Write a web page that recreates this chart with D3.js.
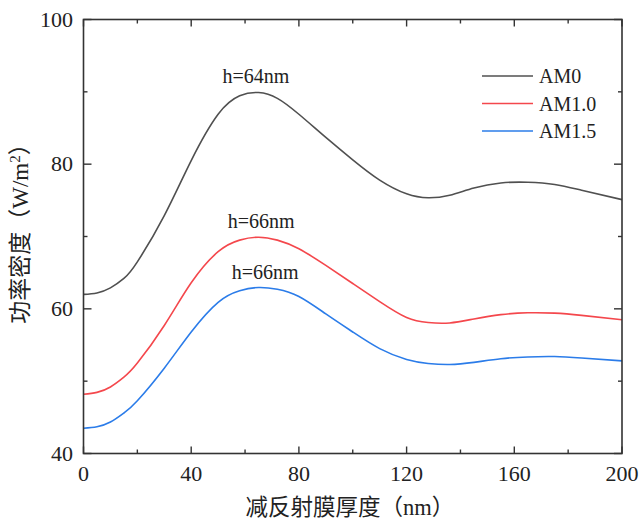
<!DOCTYPE html>
<html><head><meta charset="utf-8">
<script src="https://cdn.jsdelivr.net/npm/d3@7"></script>
<style>body{margin:0;background:#fff}</style>
</head><body>
<svg id="c" width="640" height="520"></svg>
<script>
const thickness = [0,5,10,15,20,30,40,50,58,65,72,80,90,100,110,120,128,136,145,155,165,175,185,200];
const am0  = [62.0,62.2,62.9,64.2,66.5,72.9,80.5,86.9,89.45,89.9,89.1,86.9,83.7,80.6,77.8,75.9,75.35,75.7,76.7,77.4,77.5,77.2,76.4,75.1];
const am10 = [48.2,48.45,49.2,50.55,52.5,57.7,63.6,67.9,69.5,69.9,69.5,68.3,66.0,63.5,61.0,58.8,58.1,58.05,58.6,59.2,59.45,59.4,59.1,58.5];
const am15 = [43.5,43.7,44.35,45.6,47.3,51.8,56.8,60.9,62.5,62.95,62.7,61.7,59.3,56.8,54.5,53.0,52.45,52.3,52.6,53.1,53.35,53.4,53.2,52.8];
const seriesNames = ["AM0","AM1.0","AM1.5"];
const seriesColors = ["#505050","#f4474c","#2b7ce9"];
const xTicks = [0,40,80,120,160,200];
const xMinor = [20,60,100,140,180];
const yTicks = [40,60,80,100];
const yMinor = [50,70,90];
const peakLabels = ["h=64nm","h=66nm","h=66nm"];
const peakX = [64,66,66];
const peakY = [89.9,69.9,63.0];

const svg = d3.select("#c");
const L=83.5, R=622, T=19.5, B=453.5;
const x = d3.scaleLinear().domain([0,200]).range([L,R]);
const y = d3.scaleLinear().domain([40,100]).range([B,T]);
const serif = "'Liberation Serif','DejaVu Serif',serif";
const cjk = "'Liberation Serif','Noto Sans CJK SC',serif";
const axisCol = "#333";

const data = [am0, am10, am15];
const line = d3.line().x((d,i)=>x(thickness[i])).y(d=>y(d)).curve(d3.curveNatural);
data.forEach((s,k)=>{
  svg.append("path").attr("d",line(s)).attr("fill","none")
    .attr("stroke",seriesColors[k]).attr("stroke-width",1.6);
});

// frame
svg.append("rect").attr("x",L).attr("y",T).attr("width",R-L).attr("height",B-T)
  .attr("fill","none").attr("stroke",axisCol).attr("stroke-width",1.6);

// ticks (inward on all sides)
const tk = svg.append("g").attr("stroke",axisCol).attr("stroke-width",1.4);
xTicks.forEach(v=>{
  tk.append("line").attr("x1",x(v)).attr("x2",x(v)).attr("y1",B).attr("y2",B-7);
  tk.append("line").attr("x1",x(v)).attr("x2",x(v)).attr("y1",T).attr("y2",T+7);
});
xMinor.forEach(v=>{
  tk.append("line").attr("x1",x(v)).attr("x2",x(v)).attr("y1",B).attr("y2",B-4);
  tk.append("line").attr("x1",x(v)).attr("x2",x(v)).attr("y1",T).attr("y2",T+4);
});
yTicks.forEach(v=>{
  tk.append("line").attr("x1",L).attr("x2",L+8).attr("y1",y(v)).attr("y2",y(v));
  tk.append("line").attr("x1",R).attr("x2",R-8).attr("y1",y(v)).attr("y2",y(v));
});
yMinor.forEach(v=>{
  tk.append("line").attr("x1",L).attr("x2",L+4).attr("y1",y(v)).attr("y2",y(v));
  tk.append("line").attr("x1",R).attr("x2",R-4).attr("y1",y(v)).attr("y2",y(v));
});

// tick labels
xTicks.forEach(v=>{
  svg.append("text").attr("x",x(v)).attr("y",481).attr("text-anchor","middle")
    .attr("font-family",serif).attr("font-size",22).attr("fill","#222").text(v);
});
yTicks.forEach(v=>{
  svg.append("text").attr("x",73).attr("y",y(v)+7).attr("text-anchor","end")
    .attr("font-family",serif).attr("font-size",22).attr("fill","#222").text(v);
});

// axis titles
svg.append("text").attr("x",350).attr("y",515).attr("text-anchor","middle")
  .attr("font-family",cjk).attr("font-size",22.5).attr("fill","#222").text("减反射膜厚度（nm）");
const yt = svg.append("text").attr("transform","translate(28,228) rotate(-90)")
  .attr("text-anchor","middle").attr("font-family",cjk).attr("font-size",23).attr("fill","#222");
yt.append("tspan").text("功率密度（W/m");
yt.append("tspan").attr("baseline-shift","super").attr("font-size",15).text("2");
yt.append("tspan").text("）");

// peak labels
const pOff = [-10,-9,-8];
const pDx = [0,0,4];
peakLabels.forEach((t,k)=>{
  svg.append("text").attr("x",x(peakX[k])+pDx[k]).attr("y",y(peakY[k])+pOff[k])
    .attr("text-anchor","middle").attr("font-family",serif).attr("font-size",20)
    .attr("fill","#222").text(t);
});

// legend
seriesNames.forEach((n,k)=>{
  const yy = 76 + k*27.5;
  svg.append("line").attr("x1",482).attr("x2",533).attr("y1",yy).attr("y2",yy)
    .attr("stroke",seriesColors[k]).attr("stroke-width",1.6);
  svg.append("text").attr("x",539).attr("y",yy+7).attr("font-family",serif)
    .attr("font-size",20).attr("fill","#222").text(n);
});
</script>
</body></html>
